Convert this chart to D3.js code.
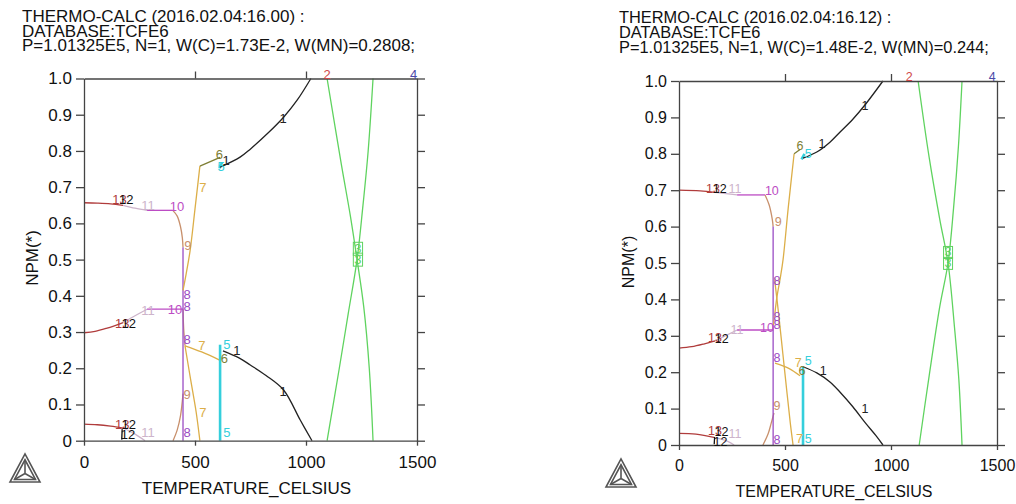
<!DOCTYPE html>
<html>
<head>
<meta charset="utf-8">
<script src="https://cdn.jsdelivr.net/npm/d3@7"></script>
<style>
body { margin: 0; background: #fff; }
text { font-family: "Liberation Sans", Arial, sans-serif; }
</style>
</head>
<body>
<div id="mainDiv"></div>
<script>
// ---- data (temperature in Celsius, NPM) ----
var xTicks = [0, 500, 1000, 1500];
var xTicksTop = [500, 1000];
var yTicks = [0, 0.1, 0.2, 0.3, 0.4, 0.5, 0.6, 0.7, 0.8, 0.9, 1.0];

var leftTitle = ["THERMO-CALC (2016.02.04:16.00) :", "DATABASE:TCFE6",
                 "P=1.01325E5, N=1, W(C)=1.73E-2, W(MN)=0.2808;"];
var rightTitle = ["THERMO-CALC (2016.02.04:16.12) :", "DATABASE:TCFE6",
                  "P=1.01325E5, N=1, W(C)=1.48E-2, W(MN)=0.244;"];

// [phase, points]
var leftCurves = [
  ["13", [[0,0.657],[60,0.656],[120,0.654],[176,0.650]]],
  ["13", [[0,0.298],[50,0.302],[100,0.310],[140,0.318],[176,0.326]]],
  ["13", [[0,0.046],[60,0.044],[120,0.040],[176,0.035]]],
  ["12", [[172,0.032],[170,0.003]]],
  ["11", [[176,0.650],[230,0.642],[284,0.636]]],
  ["11", [[176,0.326],[230,0.345],[284,0.363]]],
  ["11", [[176,0.035],[230,0.018],[275,0.0]]],
  ["10", [[284,0.636],[400,0.636]]],
  ["10", [[284,0.363],[446,0.363]]],
  ["9",  [[400,0.636],[420,0.620],[435,0.590],[443,0.560],[446,0.534]]],
  ["9",  [[446,0.363],[449,0.310],[455,0.262]]],
  ["9",  [[401,0.0],[420,0.030],[435,0.070],[446,0.130]]],
  ["8",  [[446,0.534],[446,0.0]]],
  ["7",  [[446,0.415],[460,0.460],[478,0.525],[500,0.640],[522,0.758]]],
  ["7",  [[455,0.262],[530,0.245],[613,0.222]]],
  ["7",  [[455,0.262],[480,0.170],[505,0.080],[522,0.0]]],
  ["6",  [[522,0.758],[613,0.782]]],
  ["5",  [[613,0.265],[613,0.0]]],
  ["5",  [[610,0.752],[622,0.768]]],
  ["1",  [[613,0.755],[703,0.783],[749,0.805],[830,0.850],[899,0.893],[960,0.940],[1022,1.0]]],
  ["1",  [[626,0.248],[700,0.228],[749,0.209],[820,0.180],[899,0.140],[974,0.057],[1027,0.0]]],
  ["3",  [[1095,1.0],[1160,0.760],[1200,0.620],[1230,0.500],[1260,0.370],[1285,0.200],[1302,0.0]]],
  ["3",  [[1095,0.0],[1150,0.200],[1190,0.350],[1230,0.500],[1255,0.640],[1280,0.800],[1302,1.0]]]
];

// [phase, T, NPM]
var leftLabels = [
  ["2", 1095, 1.012], ["4", 1485, 1.012],
  ["13", 160, 0.665], ["12", 190, 0.665], ["11", 288, 0.650], ["10", 419, 0.648],
  ["9", 468, 0.540], ["7", 536, 0.700], ["6", 610, 0.790], ["5", 618, 0.758], ["1", 640, 0.775],
  ["1", 897, 0.890],
  ["13", 172, 0.325], ["12", 202, 0.325], ["11", 288, 0.360], ["10", 410, 0.362],
  ["8", 464, 0.405], ["8", 464, 0.372], ["8", 464, 0.280], ["8", 464, 0.022],
  ["9", 464, 0.128], ["7", 531, 0.262], ["7", 536, 0.078],
  ["5", 644, 0.265], ["5", 644, 0.022], ["6", 632, 0.228], ["1", 689, 0.248],
  ["1", 897, 0.135],
  ["13", 172, 0.045], ["12", 202, 0.045], ["12", 198, 0.016], ["11", 288, 0.022],
  ["3", 1234, 0.530], ["3", 1234, 0.500]
];

var rightCurves = [
  ["13", [[0,0.700],[100,0.698],[170,0.694]]],
  ["13", [[0,0.266],[60,0.270],[120,0.278],[170,0.286]]],
  ["13", [[0,0.032],[80,0.030],[170,0.020]]],
  ["12", [[168,0.022],[166,0.002]]],
  ["11", [[170,0.694],[274,0.687]]],
  ["11", [[170,0.286],[274,0.316]]],
  ["11", [[170,0.020],[230,0.010],[260,0.0]]],
  ["10", [[274,0.687],[406,0.687]]],
  ["10", [[274,0.316],[444,0.316]]],
  ["9",  [[406,0.687],[425,0.660],[440,0.620],[444,0.600]]],
  ["9",  [[396,0.0],[420,0.030],[435,0.060],[448,0.088]]],
  ["8",  [[444,0.600],[444,0.0]]],
  ["7",  [[446,0.330],[462,0.407],[478,0.460],[491,0.510],[515,0.650],[543,0.800]]],
  ["7",  [[450,0.460],[470,0.360],[490,0.250],[510,0.140],[525,0.060],[538,0.0]]],
  ["7",  [[453,0.225],[520,0.210],[571,0.190]]],
  ["6",  [[543,0.800],[571,0.812]]],
  ["5",  [[585,0.215],[585,0.0]]],
  ["5",  [[578,0.785],[592,0.800]]],
  ["1",  [[585,0.788],[650,0.805],[712,0.832],[760,0.860],[820,0.895],[877,0.934],[962,1.0]]],
  ["1",  [[585,0.215],[650,0.198],[712,0.173],[760,0.145],[820,0.105],[880,0.060],[930,0.025],[962,0.0]]],
  ["3",  [[1128,1.0],[1180,0.790],[1230,0.620],[1269,0.500],[1300,0.320],[1320,0.180],[1335,0.0]]],
  ["3",  [[1133,0.0],[1180,0.190],[1230,0.380],[1269,0.500],[1295,0.650],[1318,0.820],[1335,1.0]]]
];

var rightLabels = [
  ["2", 1086, 1.012], ["4", 1478, 1.012],
  ["13", 160, 0.705], ["12", 192, 0.705], ["11", 264, 0.705], ["10", 438, 0.698],
  ["9", 468, 0.615], ["6", 571, 0.822], ["5", 609, 0.800], ["1", 674, 0.828],
  ["1", 877, 0.932],
  ["13", 170, 0.295], ["12", 202, 0.293], ["11", 274, 0.318], ["10", 415, 0.322],
  ["8", 462, 0.452], ["8", 462, 0.352], ["8", 462, 0.330], ["8", 462, 0.240], ["8", 462, 0.015],
  ["9", 462, 0.108], ["7", 562, 0.225], ["5", 609, 0.233], ["6", 580, 0.205], ["1", 680, 0.205],
  ["7", 568, 0.018], ["5", 609, 0.018],
  ["1", 877, 0.100],
  ["13", 170, 0.040], ["12", 200, 0.037], ["12", 196, 0.010], ["11", 264, 0.030],
  ["3", 1269, 0.530], ["3", 1269, 0.500]
];

// ---- styles ----
var phaseColor = {
  "1": "#222222", "2": "#d04848", "3": "#5fd35f", "4": "#4a4aa8",
  "5": "#35cfdc", "6": "#7e7e34", "7": "#dcae48", "8": "#9a4cc4",
  "9": "#c8906c", "10": "#bc4cc4", "11": "#cdb4cb", "12": "#111111", "13": "#b03c3c"
};

var mainDiv = d3.select("#mainDiv");
var svg = mainDiv.append("svg")
                 .attr("width", 1016)
                 .attr("height", 504);

function drawChart(cfg, title, curves, labels) {
  var x = d3.scaleLinear().domain([0, 1500]).range([cfg.x0, cfg.x1]);
  var y = d3.scaleLinear().domain([0, 1]).range([cfg.y0, cfg.y1]);
  var g = svg.append("g");

  // header text
  g.selectAll(".title").data(title).enter().append("text")
   .attr("x", cfg.tx)
   .attr("y", function(d, i) { return cfg.ty[i]; })
   .attr("font-size", cfg.tfs)
   .attr("fill", "#111")
   .text(function(d) { return d; });

  // curves
  var line = d3.line()
               .x(function(d) { return x(d[0]); })
               .y(function(d) { return y(d[1]); })
               .curve(d3.curveCatmullRom.alpha(0.5));
  curves.forEach(function(c) {
    g.append("path")
     .attr("d", line(c[1]))
     .attr("fill", "none")
     .attr("stroke", phaseColor[c[0]])
     .attr("stroke-width", c[0] === "5" ? 2.6 : 1.3);
  });

  // axes
  var fmt = function(d) { return d === 0 ? "0" : d.toFixed(1); };
  var axes = [];
  axes.push(g.append("g").attr("transform", "translate(" + cfg.x0 + ",0)")
    .call(d3.axisLeft(y).tickValues(yTicks).tickFormat(fmt).tickSize(8).tickSizeOuter(0).tickPadding(4)));
  axes.push(g.append("g").attr("transform", "translate(" + cfg.x1 + ",0)")
    .call(d3.axisRight(y).tickValues(yTicks).tickFormat("").tickSize(8).tickSizeOuter(0)));
  axes.push(g.append("g").attr("transform", "translate(0," + cfg.y1 + ")")
    .call(d3.axisTop(x).tickValues(xTicksTop).tickFormat("").tickSize(7).tickSizeOuter(0)));
  axes.push(g.append("g").attr("transform", "translate(0," + cfg.y0 + ")")
    .call(d3.axisBottom(x).tickValues(xTicks).tickFormat(d3.format("d"))
            .tickSize(5).tickSizeOuter(0).tickPadding(10)));
  axes.forEach(function(a) {
    a.attr("font-family", null).attr("font-size", cfg.fs);
    a.selectAll("path, line").attr("stroke", "#444").attr("stroke-width", 1.3);
    a.selectAll("text").attr("fill", "#111");
  });

  // axis titles
  g.append("text")
   .attr("x", (cfg.x0 + cfg.x1) / 2 - 4)
   .attr("y", cfg.xly)
   .attr("text-anchor", "middle")
   .attr("font-size", cfg.fs)
   .attr("fill", "#111")
   .text("TEMPERATURE_CELSIUS");
  g.append("text")
   .attr("transform", "translate(" + cfg.ylx + "," + cfg.yly + ") rotate(-90)")
   .attr("text-anchor", "middle")
   .attr("font-size", cfg.fs)
   .attr("fill", "#111")
   .text("NPM(*)");

  // curve labels
  labels.forEach(function(l) {
    var t = g.append("text")
     .attr("x", x(l[1]))
     .attr("y", y(l[2]))
     .attr("dy", "0.35em")
     .attr("text-anchor", "middle")
     .attr("font-size", cfg.lfs)
     .attr("fill", phaseColor[l[0]])
     .text(l[0]);
    if (l[0] === "3") {
      var b = t.node().getBBox();
      g.append("rect")
       .attr("x", b.x - 1).attr("y", b.y + 1)
       .attr("width", b.width + 2).attr("height", b.height - 2)
       .attr("fill", "none")
       .attr("stroke", phaseColor["3"])
       .attr("stroke-width", 1);
    }
  });

  // logo
  var cx = cfg.logo[0], cy = cfg.logo[1], s = 15;
  var outer = [[cx - s, cy + s * 0.87], [cx + s, cy + s * 0.87], [cx, cy - s * 0.87 - 2]];
  var mid = [cx, cy + s * 0.3];
  var inner = outer.map(function(p) {
    return [mid[0] + (p[0] - mid[0]) * 0.7, mid[1] + (p[1] - mid[1]) * 0.7];
  });
  var lg = g.append("g").attr("fill", "none").attr("stroke", "#555").attr("stroke-width", 1.6);
  lg.append("path").attr("d", "M" + outer.join("L") + "Z");
  lg.append("path").attr("d", "M" + inner.join("L") + "Z");
  inner.forEach(function(p) {
    lg.append("line").attr("x1", mid[0]).attr("y1", mid[1]).attr("x2", p[0]).attr("y2", p[1]);
  });
}

drawChart({x0: 84, x1: 417, y0: 440.7, y1: 78.5, tx: 22, ty: [21.7, 36.7, 50.7], tfs: 17,
           fs: 17, lfs: 13, xly: 494, ylx: 38, yly: 258, logo: [25, 469]},
          leftTitle, leftCurves, leftLabels);

drawChart({x0: 679, x1: 997, y0: 445, y1: 81, tx: 619, ty: [22.7, 38.3, 53.3], tfs: 16.4,
           fs: 16, lfs: 12.5, xly: 497, ylx: 634, yly: 262, logo: [621, 474]},
          rightTitle, rightCurves, rightLabels);
</script>
</body>
</html>
